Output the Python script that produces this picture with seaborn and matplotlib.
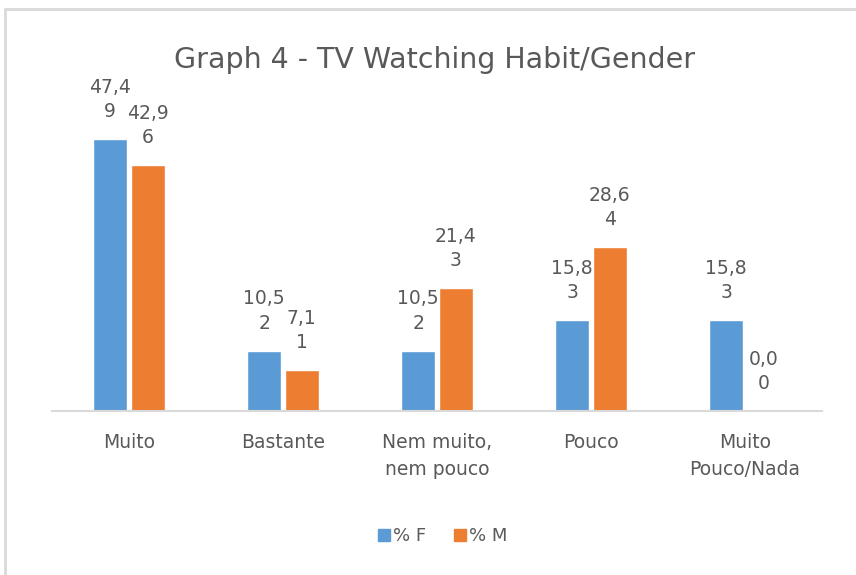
import pandas as pd
import matplotlib.pyplot as plt
import seaborn as sns
from matplotlib.lines import Line2D

# Datos
categorias = ["Muito", "Bastante", "Nem muito,\nnem pouco", "Pouco", "Muito\nPouco/Nada"]
pct_f = [47.49, 10.52, 10.52, 15.83, 15.83]
pct_m = [42.96, 7.11, 21.43, 28.64, 0.00]
series = ["% F", "% M"]
etiquetas_f = ["47,4\n9", "10,5\n2", "10,5\n2", "15,8\n3", "15,8\n3"]
etiquetas_m = ["42,9\n6", "7,1\n1", "21,4\n3", "28,6\n4", "0,0\n0"]

df = pd.DataFrame({
    "cat": categorias * 2,
    "serie": [series[0]] * 5 + [series[1]] * 5,
    "valor": pct_f + pct_m,
})

sns.set_theme(style="white")
plt.rcParams['font.family'] = ['DejaVu Sans']

gris = "#595959"
azul = "#5B9BD5"
naranja = "#ED7D31"
fs = 13.5

fig = plt.figure(figsize=(8.56, 5.75), dpi=100)
ax = fig.add_axes([52 / 856, 1 - 411 / 575, 770 / 856, 286.5 / 575])

sns.barplot(data=df, x="cat", y="valor", hue="serie", palette=[azul, naranja],
            order=categorias, hue_order=series, width=0.49, gap=0.09,
            saturation=1, ax=ax, legend=False)

ax.set_ylim(0, 50)
ax.set_xlim(-0.5, 4.5)
ax.set_xlabel("")
ax.set_ylabel("")
ax.set_yticks([])
for lado in ["top", "right", "left"]:
    ax.spines[lado].set_visible(False)
ax.spines["bottom"].set_color("#D9D9D9")
ax.spines["bottom"].set_linewidth(1.5)
ax.tick_params(axis="x", length=0, pad=16, labelsize=fs, labelcolor=gris)
for t in ax.get_xticklabels():
    t.set_linespacing(1.55)

# Etiquetas de datos
for cont, etiquetas in zip(ax.containers, [etiquetas_f, etiquetas_m]):
    for barra, txt in zip(cont, etiquetas):
        x = barra.get_x() + barra.get_width() / 2
        ax.annotate(txt, (x, barra.get_height()), xytext=(0, 13),
                    textcoords="offset points", ha="center", va="bottom",
                    fontsize=fs, color=gris, linespacing=1.35,
                    annotation_clip=False)

fig.text(435 / 856, 1 - 60 / 575, "Graph 4 - TV Watching Habit/Gender",
         ha="center", va="center", fontsize=20.5, color=gris)

# Leyenda
handles = [Line2D([0], [0], marker="s", linestyle="", markersize=8,
                  markerfacecolor=c, markeredgecolor=c) for c in [azul, naranja]]
fig.legend(handles, series, loc="center", bbox_to_anchor=(441 / 856, 1 - 536 / 575),
           ncol=2, frameon=False, fontsize=13, labelcolor=gris,
           handletextpad=0.0, columnspacing=1.4, handlelength=1.0)

# Borde del gráfico
fig.add_artist(Line2D([5 / 856, 5 / 856], [0, 1 - 9 / 575], transform=fig.transFigure,
                      color="#D9D9D9", linewidth=2))
fig.add_artist(Line2D([5 / 856, 1], [1 - 9 / 575, 1 - 9 / 575], transform=fig.transFigure,
                      color="#D9D9D9", linewidth=2))

fig.savefig("out.png", dpi=100)
